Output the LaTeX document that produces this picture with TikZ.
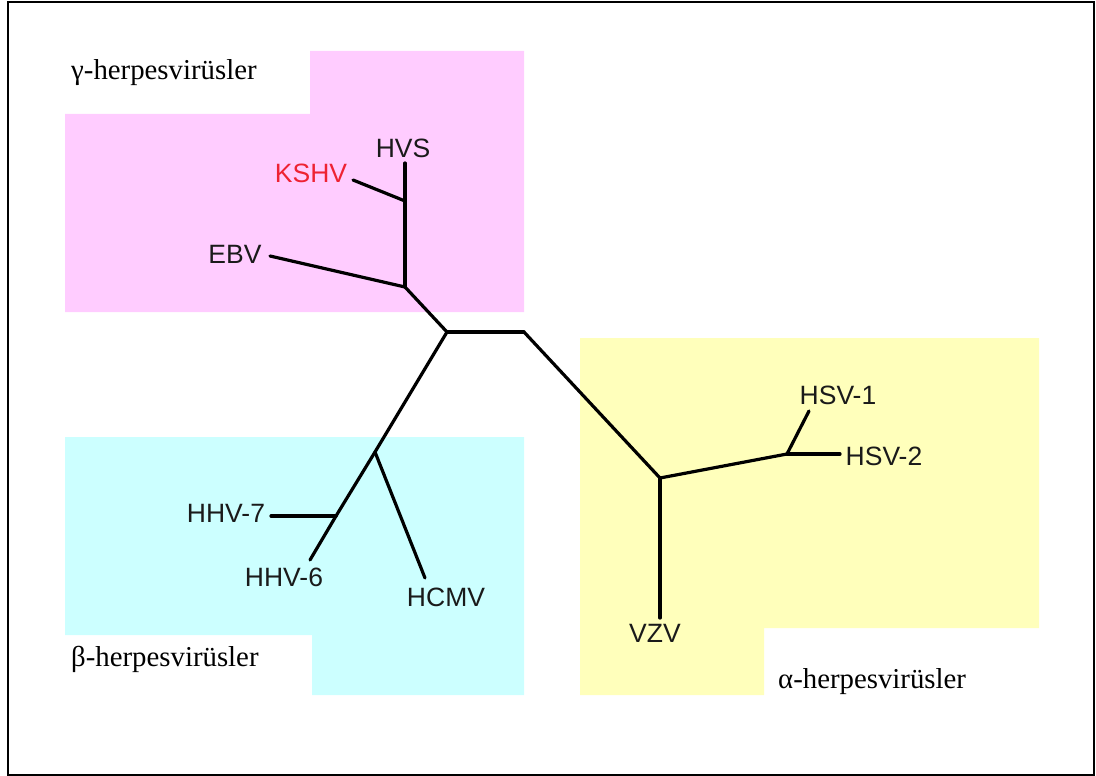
\documentclass[tikz,border=0pt]{standalone}
\usepackage{fontspec}
\setmainfont{Liberation Serif}
\newfontfamily\arialfont{Liberation Sans}
\definecolor{pinkbg}{HTML}{FFCCFF}
\definecolor{cyanbg}{HTML}{CCFFFF}
\definecolor{yellowbg}{HTML}{FFFFBB}
\definecolor{kshvred}{HTML}{EE2233}
\definecolor{textdark}{HTML}{1A1A1A}
\begin{document}
\begin{tikzpicture}[x=1pt,y=-1pt,
  branch/.style={line width=3.2pt, line cap=round, line join=round},
  taxon/.style={font=\arialfont\fontsize{26.5}{30}\selectfont, inner sep=0pt, text=textdark},
  grouplabel/.style={font=\fontsize{28.8}{32}\selectfont, inner sep=0pt, anchor=base west, text=black}]
\useasboundingbox (0,0) rectangle (1096,776);
% background regions
\fill[pinkbg] (310,51) -- (524,51) -- (524,312) -- (65,312) -- (65,114) -- (310,114) -- cycle;
\fill[cyanbg] (65,437) -- (524,437) -- (524,695) -- (312,695) -- (312,635) -- (65,635) -- cycle;
\fill[yellowbg] (580,338) -- (1039,338) -- (1039,628) -- (764,628) -- (764,695) -- (580,695) -- cycle;
% frame
\draw[line width=2pt] (8,2) rectangle (1094,775);
% tree coordinates
\coordinate (root) at (447,332);
\coordinate (mid) at (524,332);
\coordinate (gam) at (405,287);
\coordinate (gamk) at (405,201);
\coordinate (hvs) at (405,163);
\coordinate (kshv) at (353,180);
\coordinate (ebv) at (270,256);
\coordinate (bet) at (375,452);
\coordinate (bet7) at (336,516);
\coordinate (hhv7) at (271,516);
\coordinate (hhv6) at (310,560);
\coordinate (hcmv) at (425,578);
\coordinate (alp) at (660,478);
\coordinate (vzv) at (660,618);
\coordinate (hsv) at (787,454);
\coordinate (hsv1) at (809,411);
\coordinate (hsv2) at (840,454);
% branches
\draw[branch] (gam) -- (root);
\draw[branch] (root) -- (mid);
\draw[branch] (mid) -- (alp);
\draw[branch] (root) -- (bet);
\draw[branch] (gam) -- (gamk);
\draw[branch] (gamk) -- (hvs);
\draw[branch] (gamk) -- (kshv);
\draw[branch] (gam) -- (ebv);
\draw[branch] (bet) -- (bet7);
\draw[branch] (bet7) -- (hhv7);
\draw[branch] (bet7) -- (hhv6);
\draw[branch] (bet) -- (hcmv);
\draw[branch] (alp) -- (vzv);
\draw[branch] (alp) -- (hsv);
\draw[branch] (hsv) -- (hsv1);
\draw[branch] (hsv) -- (hsv2);
% taxon labels
\node[taxon] (lhvs) at (403,148) {HVS};
\node[taxon, text=kshvred] (lkshv) at (311,173) {KSHV};
\node[taxon] (lebv) at (235,254) {EBV};
\node[taxon] (lhhv7) at (226,513) {HHV-7};
\node[taxon] (lhhv6) at (284,577) {HHV-6};
\node[taxon] (lhcmv) at (446,597) {HCMV};
\node[taxon] (lhsv1) at (838,395) {HSV-1};
\node[taxon] (lhsv2) at (884,456) {HSV-2};
\node[taxon] (lvzv) at (655,633) {VZV};
% group labels
\node[grouplabel] (gg) at (71,80) {γ-herpesvirüsler};
\node[grouplabel] (gb) at (71,666) {β-herpesvirüsler};
\node[grouplabel] (ga) at (778,688) {α-herpesvirüsler};
\end{tikzpicture}
\end{document}
